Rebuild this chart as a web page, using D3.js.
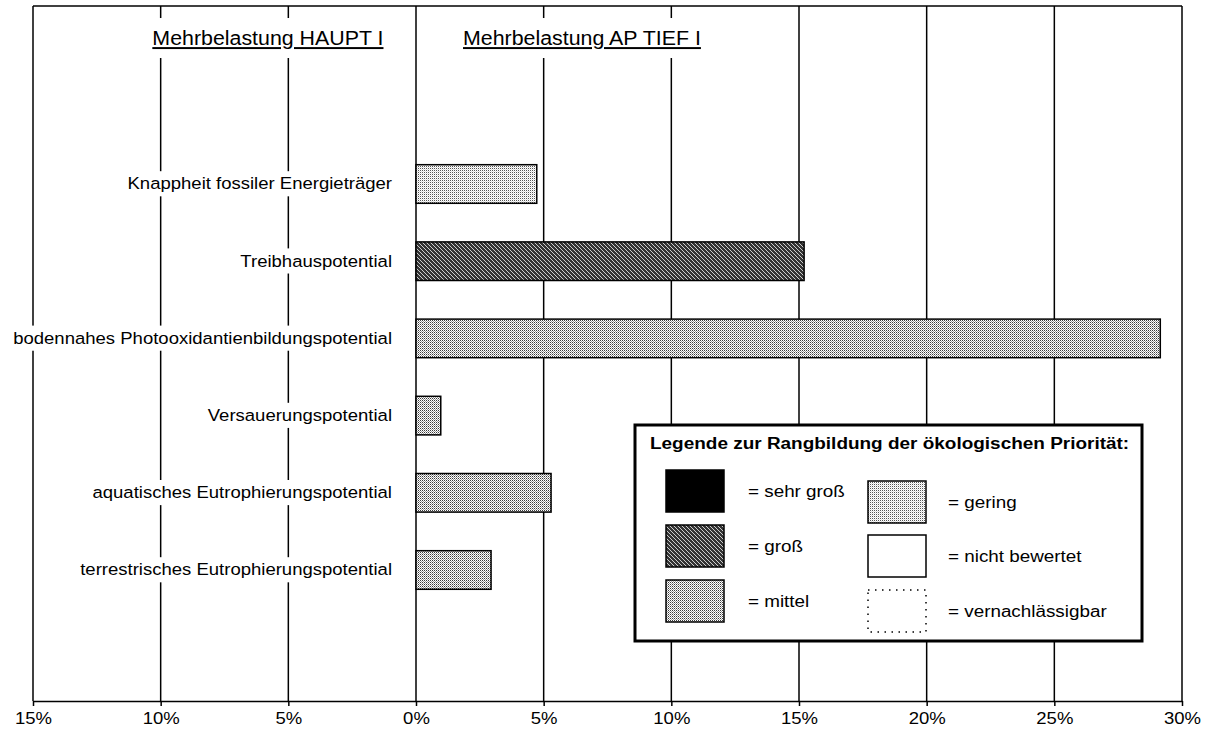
<!DOCTYPE html>
<html>
<head>
<meta charset="utf-8">
<script src="https://cdn.jsdelivr.net/npm/d3@7"></script>
<style>
  html, body { margin: 0; padding: 0; background: #fff; }
  svg { display: block; }
  text { font-family: "Liberation Sans", Arial, sans-serif; fill: #000; }
</style>
</head>
<body>
<svg id="chart" width="1212" height="737"></svg>
<script>
// ---------- data ----------
const categories = [
  "Knappheit fossiler Energieträger",
  "Treibhauspotential",
  "bodennahes Photooxidantienbildungspotential",
  "Versauerungspotential",
  "aquatisches Eutrophierungspotential",
  "terrestrisches Eutrophierungspotential"
];
const values = [4.73, 15.2, 29.15, 0.97, 5.29, 2.94];          // % Mehrbelastung AP TIEF I
const ratings = ["gering", "groß", "mittel", "mittel", "mittel", "mittel"];
const tickValues = [-15, -10, -5, 0, 5, 10, 15, 20, 25, 30];
const headers = ["Mehrbelastung HAUPT I", "Mehrbelastung AP TIEF I"];
const legendTitle = "Legende zur Rangbildung der ökologischen Priorität:";
const legendKeys = ["sehr groß", "groß", "mittel", "gering", "nicht bewertet", "vernachlässigbar"];
const legendLabels = ["= sehr groß", "= groß", "= mittel", "= gering", "= nicht bewertet", "= vernachlässigbar"];

// ---------- setup ----------
const svg = d3.select("#chart");
const SX = 1.09; // horizontal stretch of the original lettering

const x = d3.scaleLinear().domain([-15, 30]).range([33, 1182]);
const yTop = 6, yBottom = 701;
const y = d3.scaleBand().domain(categories)
  .range([145.4, 608.6]).paddingInner(0.5).paddingOuter(0.25);

// patterns
const defs = svg.append("defs");
function pixPattern(id, bg, pixels) {
  const p = defs.append("pattern").attr("id", id)
    .attr("patternUnits", "userSpaceOnUse")
    .attr("width", pixels.size).attr("height", pixels.size);
  p.append("rect").attr("width", pixels.size).attr("height", pixels.size)
    .attr("fill", bg).attr("shape-rendering", "crispEdges");
  pixels.pts.forEach(([px, py, c]) => {
    p.append("rect").attr("x", px).attr("y", py).attr("width", 1).attr("height", 1)
      .attr("fill", c).attr("shape-rendering", "crispEdges");
  });
}
pixPattern("p-gering", "#fff", {size: 2, pts: [[0, 0, "#555"], [1, 1, "#ddd"]]});
pixPattern("p-mittel", "#fff", {size: 2, pts: [[0, 0, "#3a3a3a"], [1, 1, "#999"]]});
pixPattern("p-gross", "#333", {size: 4, pts: [[0, 0, "#ccc"], [1, 1, "#ccc"], [2, 2, "#ccc"], [3, 3, "#ccc"]]});

const fillFor = {
  "sehr groß": "#000",
  "groß": "url(#p-gross)",
  "mittel": "url(#p-mittel)",
  "gering": "url(#p-gering)",
  "nicht bewertet": "#fff",
  "vernachlässigbar": "#fff"
};

// helper: stretched text with optional white background
function label(parent, tx, ty, str, opts) {
  const g = parent.append("g").attr("transform", `translate(${tx},${ty}) scale(${SX},1)`);
  const bg = opts.bg ? g.append("rect").attr("fill", "#fff") : null;
  const t = g.append("text")
    .attr("text-anchor", opts.anchor || "start")
    .attr("dominant-baseline", opts.baseline || "middle")
    .style("font-size", opts.size + "px")
    .style("font-weight", opts.weight || "normal")
    .text(str);
  if (opts.underline) t.style("text-decoration", "underline");
  if (bg) {
    const b = t.node().getBBox();
    const px = opts.padX || 2, py = opts.padY || 2;
    bg.attr("x", b.x - px).attr("y", b.y - py)
      .attr("width", b.width + 2 * px).attr("height", b.height + 2 * py);
  }
  return g;
}

// ---------- grid & frame ----------
const grid = svg.append("g");
grid.selectAll("line.v").data(tickValues).join("line")
  .attr("class", "v")
  .attr("x1", d => x(d)).attr("x2", d => x(d))
  .attr("y1", yTop).attr("y2", yBottom)
  .attr("stroke", "#000").attr("stroke-width", 1.5);
grid.append("line")
  .attr("x1", x(-15)).attr("x2", x(30)).attr("y1", yTop).attr("y2", yTop)
  .attr("stroke", "#000").attr("stroke-width", 1.5);

// axis
const axis = svg.append("g").attr("transform", `translate(0,${yBottom})`)
  .call(d3.axisBottom(x).tickValues(tickValues).tickSize(5).tickSizeOuter(0).tickPadding(6)
    .tickFormat(d => Math.abs(d) + "%"));
axis.select(".domain").attr("stroke", "#000").attr("stroke-width", 1.5);
axis.selectAll(".tick line").attr("stroke", "#000").attr("stroke-width", 1.5);
axis.selectAll(".tick text")
  .attr("transform", `scale(${SX},1)`)
  .style("font-family", '"Liberation Sans", Arial, sans-serif')
  .style("font-size", "17px").attr("fill", "#000");

// headers
const hdr = svg.append("g");
label(hdr, x(-5.8), 40, headers[0], {size: 19.6, anchor: "middle", bg: true, underline: true, padX: 3, padY: 9});
label(hdr, x(6.5), 40, headers[1], {size: 19.6, anchor: "middle", bg: true, underline: true, padX: 3, padY: 9});

// category labels
const lab = svg.append("g");
categories.forEach(c => {
  label(lab, x(0) - 24, y(c) + y.bandwidth() / 2 + 1, c, {size: 17, anchor: "end", bg: true, padX: 2, padY: 3});
});

// bars
svg.append("g").selectAll("rect").data(categories).join("rect")
  .attr("x", x(0))
  .attr("y", c => y(c))
  .attr("width", (c, i) => x(values[i]) - x(0))
  .attr("height", y.bandwidth())
  .attr("fill", (c, i) => fillFor[ratings[i]])
  .attr("stroke", "#000").attr("stroke-width", 1.5);

// ---------- legend ----------
const lg = svg.append("g");
lg.append("rect").attr("x", 635).attr("y", 425).attr("width", 507).attr("height", 216)
  .attr("fill", "#fff").attr("stroke", "#000").attr("stroke-width", 3);
label(lg, 650, 444, legendTitle, {size: 17.4, weight: "bold"});

const legendPos = [
  {sx: 666, sy: 470, tx: 748}, {sx: 666, sy: 525, tx: 748}, {sx: 666, sy: 580, tx: 748},
  {sx: 868, sy: 481, tx: 948}, {sx: 868, sy: 535, tx: 948}, {sx: 868, sy: 590, tx: 948}
];
legendKeys.forEach((k, i) => {
  const p = legendPos[i];
  const r = lg.append("rect").attr("x", p.sx).attr("y", p.sy).attr("width", 58).attr("height", 42)
    .attr("fill", fillFor[k]).attr("stroke", "#000").attr("stroke-width", 1.5);
  if (k === "vernachlässigbar") r.attr("stroke-dasharray", "1.5,5.5");
  label(lg, p.tx, p.sy + 22, legendLabels[i], {size: 17.3});
});
</script>
</body>
</html>
